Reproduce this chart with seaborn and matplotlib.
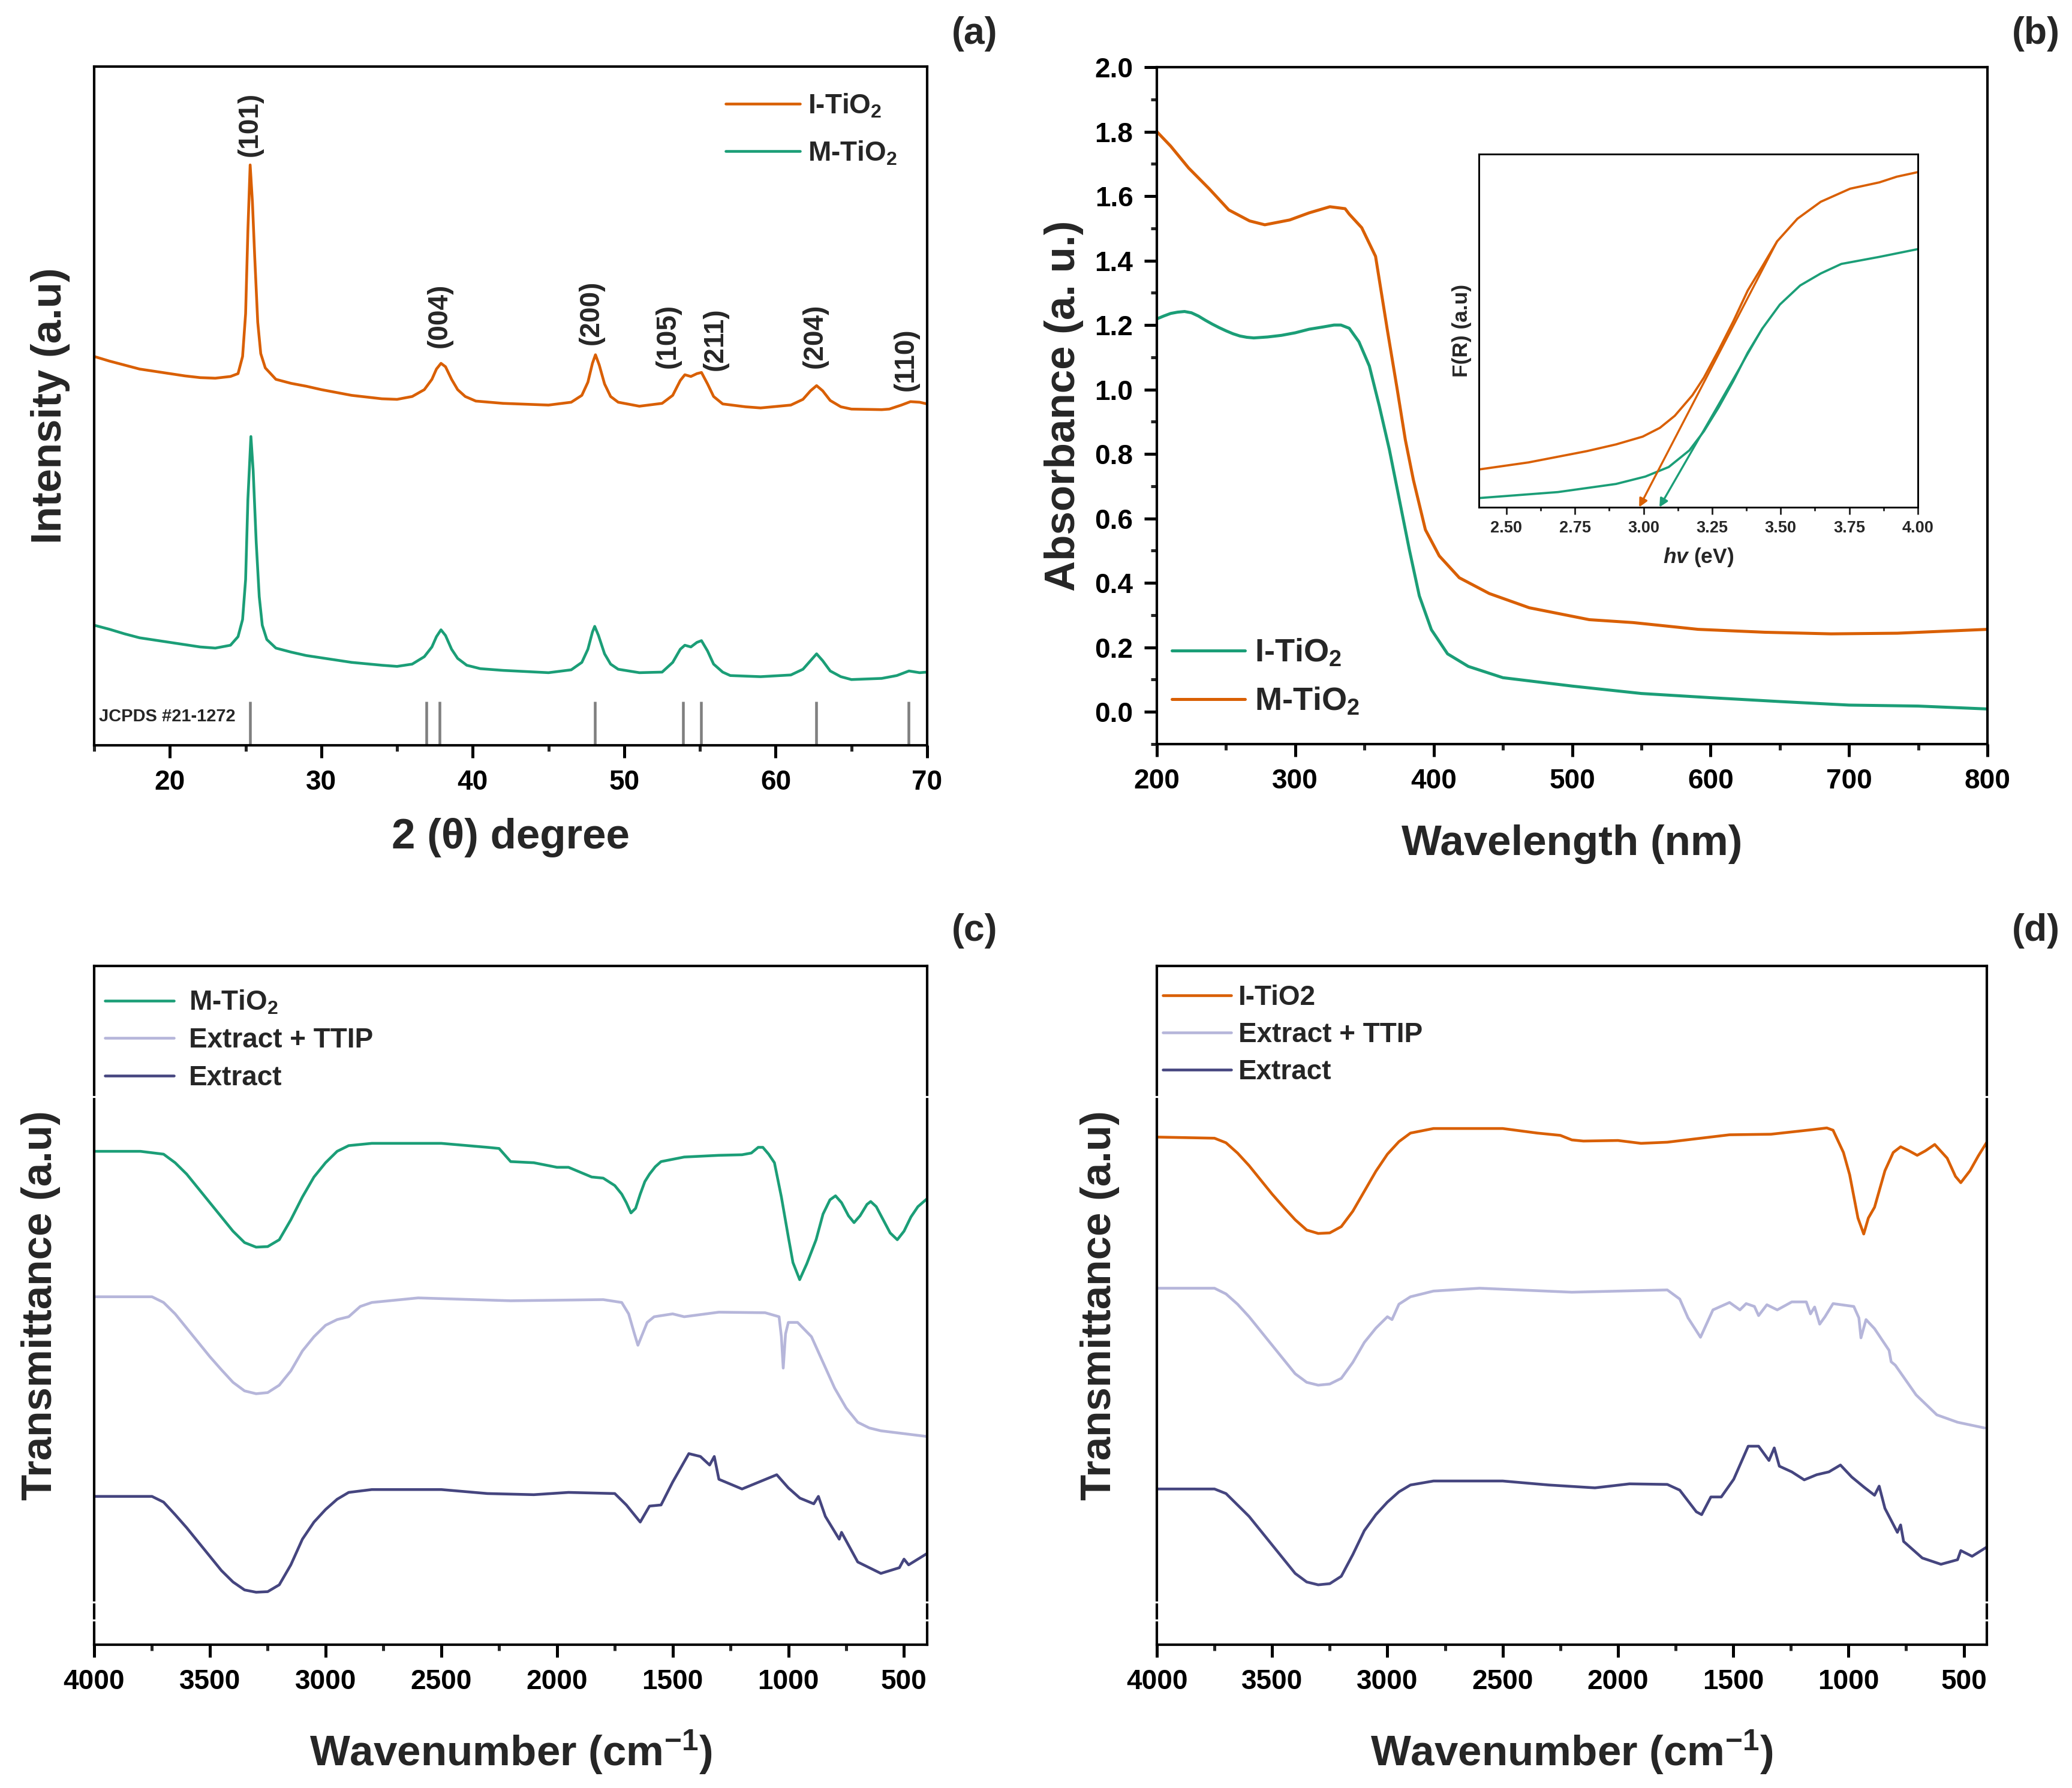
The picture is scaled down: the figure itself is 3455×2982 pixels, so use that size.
import numpy as np
import pandas as pd
import matplotlib
matplotlib.use("Agg")
import matplotlib.pyplot as plt
from matplotlib.ticker import MultipleLocator, FormatStrFormatter
import seaborn as sns

# ---------------- DATA ----------------
# (a) XRD, arbitrary intensity units
xrd_theta_I = [15, 16, 17, 18, 19, 20, 21, 22, 23, 24, 24.5, 24.8, 25.0, 25.15, 25.3, 25.45, 25.6, 25.8,
               26.0, 26.3, 27, 28, 29, 30, 32, 34, 35, 36.0, 36.8, 37.3, 37.6, 37.9, 38.2, 38.6, 39.0,
               39.5, 40.2, 42, 45, 46.5, 47.2, 47.6, 47.9, 48.1, 48.35, 48.7, 49.1, 49.6, 51, 52.5,
               53.2, 53.7, 54.0, 54.4, 54.8, 55.1, 55.5, 55.9, 56.5, 58, 59, 61.0, 61.8, 62.3, 62.7,
               63.1, 63.6, 64.3, 65, 67, 67.5, 68.3, 68.9, 69.5, 70]
xrd_I_TiO2 = [680, 672, 665, 658, 654, 650, 646, 643, 642, 645, 650, 680, 755, 900, 1015, 950, 855, 740,
              685, 660, 640, 633, 628, 622, 612, 606, 605, 610, 622, 640, 658, 668, 662, 640, 622,
              610, 602, 598, 595, 600, 612, 635, 668, 683, 665, 632, 610, 600, 593, 598,
              612, 638, 648, 645, 650, 652, 632, 610, 597, 592, 590, 595, 605, 620, 629,
              620, 603, 592, 588, 587, 588, 595, 601, 600, 597]
xrd_theta_M = [15, 16, 17, 18, 19, 20, 21, 22, 23, 24, 24.5, 24.8, 25.0, 25.15, 25.35, 25.5, 25.7, 25.9,
               26.1, 26.4, 27, 28, 29, 30, 32, 34, 35, 36.0, 36.8, 37.3, 37.6, 37.9, 38.2, 38.6, 39.0,
               39.6, 40.5, 42, 45, 46.5, 47.2, 47.6, 47.9, 48.05, 48.3, 48.7, 49.1, 49.6, 51, 52.5,
               53.2, 53.7, 54.0, 54.4, 54.8, 55.1, 55.5, 55.9, 56.5, 57, 59, 61.0, 61.8, 62.3, 62.7,
               63.1, 63.6, 64.3, 65, 67, 68.0, 68.8, 69.5, 70]
xrd_M_TiO2 = [210, 203, 195, 188, 184, 180, 176, 172, 170, 175, 190, 220, 290, 430, 540, 480, 355, 260,
              210, 185, 170, 163, 157, 153, 145, 140, 138, 142, 155, 172, 190, 202, 192, 168, 152,
              140, 134, 131, 127, 132, 145, 168, 198, 208, 192, 160, 142, 133, 127, 128,
              145, 168, 175, 172, 180, 183, 165, 142, 128, 122, 120, 123, 133, 148, 160,
              148, 130, 120, 115, 117, 122, 130, 127, 128]
jcpds_pos = [25.28, 36.95, 37.80, 48.05, 53.89, 55.06, 62.69, 68.76]
jcpds_height = [77, 77, 77, 77, 77, 77, 77, 77]
hkl_labels = ["(101)", "(004)", "(200)", "(105)", "(211)", "(204)", "(110)"]
hkl_x = [25.3, 37.8, 47.8, 52.9, 56.0, 62.6, 68.6]
hkl_y = [1030, 695, 700, 660, 655, 660, 620]

# (b) UV-Vis absorbance
uv_nm_I = [200, 205, 210, 215, 220, 225, 230, 235, 240, 245, 250, 255, 260, 265, 270, 280, 290, 300,
           310, 320, 328, 333, 339, 346, 353.5, 360.7, 368, 375.2, 382.4, 389.6, 398.3, 410, 425,
           450, 500, 550, 600, 650, 700, 750, 800]
uv_I_TiO2 = [1.219, 1.228, 1.236, 1.240, 1.242, 1.238, 1.228, 1.215, 1.203, 1.192, 1.182, 1.173, 1.166,
             1.162, 1.160, 1.163, 1.168, 1.176, 1.187, 1.194, 1.200, 1.200, 1.190, 1.148, 1.073, 0.949,
             0.813, 0.658, 0.503, 0.360, 0.255, 0.180, 0.141, 0.106, 0.080, 0.057, 0.044, 0.032,
             0.021, 0.018, 0.009]
uv_nm_M = [200, 210, 223, 238, 252, 267, 278, 296, 310, 325, 336, 339, 348, 358, 366.5, 373.7, 379.5,
           385.3, 394, 404, 418.5, 440.2, 469, 512.4, 544, 591, 639, 687, 735, 800]
uv_M_TiO2 = [1.800, 1.755, 1.687, 1.622, 1.557, 1.523, 1.511, 1.526, 1.548, 1.567, 1.561, 1.544, 1.502,
             1.413, 1.185, 0.999, 0.844, 0.720, 0.565, 0.484, 0.416, 0.367, 0.323, 0.286, 0.277,
             0.256, 0.247, 0.242, 0.244, 0.256]
# inset: Kubelka-Munk F(R) (normalised a.u.)
km_ev_M = [2.4, 2.581, 2.794, 2.9, 2.997, 3.06, 3.114, 3.178, 3.22, 3.274, 3.327, 3.38, 3.433, 3.487,
           3.561, 3.646, 3.753, 3.86, 3.923, 4.0]
km_M_TiO2 = [0.107, 0.127, 0.159, 0.178, 0.200, 0.225, 0.259, 0.317, 0.367, 0.445, 0.526, 0.614, 0.682,
             0.753, 0.817, 0.865, 0.902, 0.920, 0.936, 0.949]
km_ev_I = [2.4, 2.688, 2.9, 3.007, 3.092, 3.167, 3.22, 3.274, 3.327, 3.38, 3.433, 3.497, 3.571, 3.646,
           3.721, 3.86, 4.0]
km_I_TiO2 = [0.026, 0.043, 0.066, 0.087, 0.114, 0.161, 0.215, 0.283, 0.357, 0.438, 0.506, 0.574, 0.628,
             0.662, 0.689, 0.709, 0.731]
gap_I = 3.058
gap_M = 2.984

# (c) FTIR
wn_c_M = [4000, 3800, 3700, 3650, 3600, 3550, 3500, 3450, 3400, 3350, 3300, 3250, 3200, 3150, 3100, 3050,
          3000, 2950, 2900, 2800, 2500, 2300, 2250, 2200, 2100, 2000, 1950, 1850, 1800, 1750, 1720, 1700,
          1680, 1660, 1640, 1620, 1600, 1575, 1550, 1450, 1300, 1200, 1160, 1130, 1110, 1085, 1060,
          1030, 1000, 980, 951, 940, 920, 880, 850, 820, 796, 770, 740, 716, 690, 660, 644, 620, 590,
          560, 529, 500, 470, 440, 400]
ftir_c_M_TiO2 = [865, 865, 860, 845, 825, 800, 775, 750, 725, 705, 697, 698, 710, 745, 785, 820,
                 845, 865, 875, 879, 879, 872, 870, 847, 845, 837, 837, 820, 818, 805, 790, 775,
                 757, 765, 790, 812, 825, 838, 847, 855, 858, 859, 862, 872, 872, 860, 845,
                 785, 715, 670, 640, 650, 668, 710, 755, 780, 787, 775, 752, 740, 752, 772, 777, 768, 745,
                 722, 710, 725, 750, 768, 782]
wn_c_ET = [4000, 3750, 3700, 3650, 3600, 3550, 3500, 3450, 3400, 3350, 3300, 3250, 3200, 3150, 3100, 3050,
           3000, 2950, 2900, 2850, 2800, 2600, 2200, 1800, 1720, 1690, 1665, 1650, 1635, 1610, 1580,
           1500, 1450, 1300, 1100, 1040, 1030, 1022, 1012, 1000, 960, 900, 850, 800, 750, 700, 650,
           600, 500, 400]
ftir_c_ext_ttip = [610, 610, 600, 580, 555, 530, 505, 482, 460, 445, 440, 442, 455, 480, 515, 540,
                   560, 570, 575, 593, 600, 608, 603, 605, 600, 580, 545, 525, 540, 565, 575,
                   580, 575, 583, 582, 575, 540, 485, 545, 565, 565, 540, 495, 450, 415, 390, 380,
                   375, 370, 365]
wn_c_E = [4000, 3750, 3700, 3650, 3600, 3550, 3500, 3450, 3400, 3350, 3300, 3250, 3200, 3150, 3100, 3050,
          3000, 2950, 2900, 2800, 2500, 2300, 2100, 1950, 1750, 1700, 1640, 1600, 1550, 1500, 1430, 1380,
          1340, 1320, 1300, 1200, 1050, 1000, 950, 890, 870, 840, 780, 770, 700, 600, 520, 500, 480, 400]
ftir_c_extract = [260, 260, 250, 228, 205, 180, 155, 130, 110, 96, 92, 93, 105, 140, 185, 215,
                  237, 255, 267, 272, 272, 265, 263, 267, 265, 245, 215, 243, 245, 285, 335, 330,
                  315, 330, 290, 273, 298, 275, 257, 247, 260, 225, 185, 197, 145, 125, 135, 150, 140, 160]

# (d) FTIR
wn_d_I = [4000, 3750, 3700, 3650, 3600, 3550, 3500, 3450, 3400, 3350, 3300, 3250, 3200, 3150, 3100, 3050,
          3000, 2950, 2900, 2800, 2500, 2350, 2250, 2200, 2150, 2000, 1900, 1786, 1516, 1336, 1156, 1094,
          1067, 1022, 995, 977, 959, 934, 914, 887, 842, 806, 774, 738, 702, 666, 626, 572, 536, 513,
          473, 437, 397]
ftir_d_I_TiO2 = [890, 888, 880, 862, 840, 815, 790, 767, 745, 727, 721, 722, 733, 760, 795, 830,
                 860, 882, 897, 905, 905, 897, 893, 885, 883, 884, 879, 881, 894, 895, 903, 906,
                 902, 863, 824, 786, 748, 720, 748, 767, 831, 863, 873, 866, 858, 866, 877, 853, 821, 810,
                 831, 857, 883]
wn_d_ET = [4000, 3750, 3700, 3650, 3600, 3550, 3500, 3450, 3400, 3350, 3300, 3250, 3200, 3150, 3100, 3050,
           3000, 2980, 2950, 2900, 2800, 2600, 2200, 1786, 1732, 1696, 1642, 1588, 1516, 1471, 1444,
           1408, 1390, 1354, 1309, 1246, 1183, 1165, 1147, 1125, 1102, 1067, 977, 955, 946, 924, 887,
           824, 815, 797, 707, 617, 527, 410]
ftir_d_ext_ttip = [625, 625, 615, 597, 575, 550, 525, 500, 475, 460, 455, 457, 467, 495, 530, 555,
                   575, 570, 597, 610, 620, 625, 618, 622, 606, 573, 539, 587, 600, 587, 598,
                   593, 577, 596, 587, 601, 601, 580, 592, 562, 575, 598, 593, 573, 538, 570, 554,
                   516, 496, 490, 438, 403, 390, 380]
wn_d_E = [4000, 3750, 3700, 3650, 3600, 3550, 3500, 3450, 3400, 3350, 3300, 3250, 3200, 3150, 3100, 3050,
          3000, 2950, 2900, 2800, 2500, 2300, 2100, 1950, 1786, 1732, 1660, 1637, 1597, 1552, 1498, 1435,
          1390, 1345, 1322, 1300, 1246, 1192, 1138, 1085, 1035, 986, 932, 887, 867, 842, 788, 774, 761,
          680, 599, 527, 513, 464, 401]
ftir_d_extract = [273, 273, 265, 245, 225, 200, 175, 150, 125, 110, 105, 107, 120, 158, 200, 228,
                  250, 268, 280, 287, 287, 280, 275, 282, 281, 271, 233, 228, 259, 259, 290, 348,
                  348, 323, 345, 313, 303, 289, 298, 303, 315, 294, 276, 262, 278, 239, 197, 210, 181,
                  152, 141, 149, 165, 155, 171]

# ---------------- STYLE ----------------
GREEN = "#1b9e77"
ORANGE = "#d95f02"
LIGHT = "#b6b6da"
DARK = "#45457f"
GRAY = "#808080"

sns.set_theme(style="ticks")
plt.rcParams["font.family"] = ["Liberation Sans", "DejaVu Sans"]
plt.rcParams["font.weight"] = "bold"
plt.rcParams["axes.labelweight"] = "bold"
plt.rcParams["mathtext.fontset"] = "custom"
plt.rcParams["mathtext.rm"] = "Liberation Sans:bold"
plt.rcParams["mathtext.bf"] = "Liberation Sans:bold"
plt.rcParams["mathtext.it"] = "Liberation Sans:bold:italic"
plt.rcParams["mathtext.default"] = "rm"
plt.rcParams["axes.linewidth"] = 1.0
plt.rcParams["axes.edgecolor"] = "black"

W, H = 3455, 2982
fig = plt.figure(figsize=(W / 300, H / 300), dpi=300)


def rect(l, t, r, b):
    return [l / W, (H - b) / H, (r - l) / W, (b - t) / H]


axA = fig.add_axes(rect(157, 111, 1546, 1243))
axB = fig.add_axes(rect(1929, 112, 3314, 1241))
axC = fig.add_axes(rect(157, 1611, 1546, 2743))
axD = fig.add_axes(rect(1929, 1611, 3313, 2743))


def style_axis(ax, yticks=True):
    for s in ax.spines.values():
        s.set_linewidth(1.0)
        s.set_color("black")
    ax.tick_params(axis="both", which="major", direction="out", length=5, width=1.2,
                   labelsize=11, pad=4.5, colors="black")
    ax.tick_params(axis="both", which="minor", direction="out", length=2.5, width=1.2)
    ax.tick_params(top=False, right=False, which="both")
    if not yticks:
        ax.tick_params(axis="y", which="both", left=False, labelleft=False)
    for lab in ax.get_xticklabels() + ax.get_yticklabels():
        lab.set_fontweight("bold")


# ---------------- (a) XRD ----------------
sns.lineplot(x=xrd_theta_I, y=xrd_I_TiO2, ax=axA, color=ORANGE, linewidth=1.1, label="I-TiO$_2$")
sns.lineplot(x=xrd_theta_M, y=xrd_M_TiO2, ax=axA, color=GREEN, linewidth=1.1, label="M-TiO$_2$")
axA.vlines(jcpds_pos, 0, jcpds_height, color=GRAY, linewidth=1.1)
axA.text(15.3, 50, "JCPDS #21-1272", fontsize=7, fontweight="bold", va="center", ha="left")
for lab, hx, hy in zip(hkl_labels, hkl_x, hkl_y):
    axA.text(hx, hy, lab, rotation=90, ha="center", va="bottom", fontsize=11, fontweight="bold")
axA.set_xlim(15, 70)
axA.set_ylim(0, 1187)
axA.xaxis.set_major_locator(MultipleLocator(10))
axA.xaxis.set_minor_locator(MultipleLocator(5))
axA.set_xlabel("2 (θ) degree", fontsize=17, fontweight="bold", labelpad=9)
axA.set_ylabel("Intensity (a.u)", fontsize=17, fontweight="bold", labelpad=9.5)
style_axis(axA, yticks=False)
axA.legend(loc="upper left", bbox_to_anchor=(0.758, 0.962), frameon=False, fontsize=11,
           handlelength=2.7, handletextpad=0.3, labelspacing=0.72, borderpad=0, borderaxespad=0)

# ---------------- (b) UV-Vis ----------------
sns.lineplot(x=uv_nm_I, y=uv_I_TiO2, ax=axB, color=GREEN, linewidth=1.2, label="I-TiO$_2$")
sns.lineplot(x=uv_nm_M, y=uv_M_TiO2, ax=axB, color=ORANGE, linewidth=1.2, label="M-TiO$_2$")
axB.set_xlim(200, 800)
axB.set_ylim(-0.1, 2.0)
axB.xaxis.set_major_locator(MultipleLocator(100))
axB.xaxis.set_minor_locator(MultipleLocator(50))
axB.yaxis.set_major_locator(MultipleLocator(0.2))
axB.yaxis.set_minor_locator(MultipleLocator(0.1))
axB.yaxis.set_major_formatter(FormatStrFormatter("%.1f"))
axB.set_xlabel("Wavelength (nm)", fontsize=17, fontweight="bold", labelpad=12)
axB.set_ylabel("Absorbance (a. u.)", fontsize=17, fontweight="bold", labelpad=4.5)
style_axis(axB)
axB.legend(loc="lower left", bbox_to_anchor=(0.018, 0.04), frameon=False, fontsize=13,
           handlelength=2.25, handletextpad=0.3, labelspacing=0.55, borderpad=0, borderaxespad=0)

# inset
axIn = fig.add_axes(rect(2466, 257, 3198, 846))
sns.lineplot(x=km_ev_M, y=km_M_TiO2, ax=axIn, color=ORANGE, linewidth=0.9)
sns.lineplot(x=km_ev_I, y=km_I_TiO2, ax=axIn, color=GREEN, linewidth=0.9)
axIn.annotate("", xy=(gap_M, 0.0), xytext=(3.487, 0.753),
              arrowprops=dict(arrowstyle="-|>", color=ORANGE, lw=0.8, mutation_scale=7,
                              shrinkA=0, shrinkB=0))
axIn.annotate("", xy=(gap_I, 0.0), xytext=(3.433, 0.506),
              arrowprops=dict(arrowstyle="-|>", color=GREEN, lw=0.8, mutation_scale=7,
                              shrinkA=0, shrinkB=0))
axIn.set_xlim(2.4, 4.0)
axIn.set_ylim(0, 1)
axIn.xaxis.set_major_locator(MultipleLocator(0.25))
axIn.xaxis.set_minor_locator(MultipleLocator(0.125))
axIn.xaxis.set_major_formatter(FormatStrFormatter("%.2f"))
for s in axIn.spines.values():
    s.set_linewidth(0.7)
axIn.tick_params(axis="x", which="major", direction="out", length=2.8, width=0.7, labelsize=6.5, pad=2.5)
axIn.tick_params(axis="x", which="minor", direction="out", length=1.4, width=0.7)
axIn.tick_params(axis="y", which="both", left=False, labelleft=False)
for lab in axIn.get_xticklabels():
    lab.set_fontweight("bold")
axIn.set_xlabel(r"$\mathit{hv}$ (eV)", fontsize=8.5, fontweight="bold", labelpad=4)
axIn.set_ylabel("F(R) (a.u)", fontsize=8.5, fontweight="bold", labelpad=3)

# ---------------- (c) FTIR ----------------
sns.lineplot(x=wn_c_M, y=ftir_c_M_TiO2, ax=axC, color=GREEN, linewidth=1.1, label="M-TiO$_2$")
sns.lineplot(x=wn_c_ET, y=ftir_c_ext_ttip, ax=axC, color=LIGHT, linewidth=1.1, label="Extract + TTIP")
sns.lineplot(x=wn_c_E, y=ftir_c_extract, ax=axC, color=DARK, linewidth=1.1, label="Extract")
axC.legend(loc="upper left", bbox_to_anchor=(0.013, 0.966), frameon=False, fontsize=11,
           handlelength=2.5, handletextpad=0.55, labelspacing=0.4, borderpad=0, borderaxespad=0)

# ---------------- (d) FTIR ----------------
sns.lineplot(x=wn_d_I, y=ftir_d_I_TiO2, ax=axD, color=ORANGE, linewidth=1.1, label="I-TiO2")
sns.lineplot(x=wn_d_ET, y=ftir_d_ext_ttip, ax=axD, color=LIGHT, linewidth=1.1, label="Extract + TTIP")
sns.lineplot(x=wn_d_E, y=ftir_d_extract, ax=axD, color=DARK, linewidth=1.1, label="Extract")
axD.legend(loc="upper left", bbox_to_anchor=(0.007, 0.973), frameon=False, fontsize=11,
           handlelength=2.5, handletextpad=0.25, labelspacing=0.4, borderpad=0, borderaxespad=0)

for ax, ypad in ((axC, 13.5), (axD, 15)):
    ax.set_xlim(4000, 400)
    ax.set_ylim(0, 1190)
    ax.xaxis.set_major_locator(MultipleLocator(500))
    ax.xaxis.set_minor_locator(MultipleLocator(250))
    ax.set_xlabel("Wavenumber (cm$^{-1}$)", fontsize=17, fontweight="bold", labelpad=13.5)
    ax.set_ylabel("Transmittance (a.u)", fontsize=17, fontweight="bold", labelpad=ypad)
    style_axis(ax, yticks=False)
    # small axis-break gaps on the vertical spines
    for yf in (0.807, 0.063, 0.036):
        for xf in (0.0, 1.0):
            ax.plot([xf - 0.004, xf + 0.004], [yf, yf], transform=ax.transAxes, color="white",
                    linewidth=0.8, clip_on=False, zorder=10)

# panel letters
fig.text(1663 / W, 1 - 56 / H, "(a)", ha="right", va="center", fontsize=15, fontweight="bold")
fig.text(3435 / W, 1 - 56 / H, "(b)", ha="right", va="center", fontsize=15, fontweight="bold")
fig.text(1663 / W, 1 - 1553 / H, "(c)", ha="right", va="center", fontsize=15, fontweight="bold")
fig.text(3435 / W, 1 - 1553 / H, "(d)", ha="right", va="center", fontsize=15, fontweight="bold")

fig.savefig("out.png", dpi=300, facecolor="white")
